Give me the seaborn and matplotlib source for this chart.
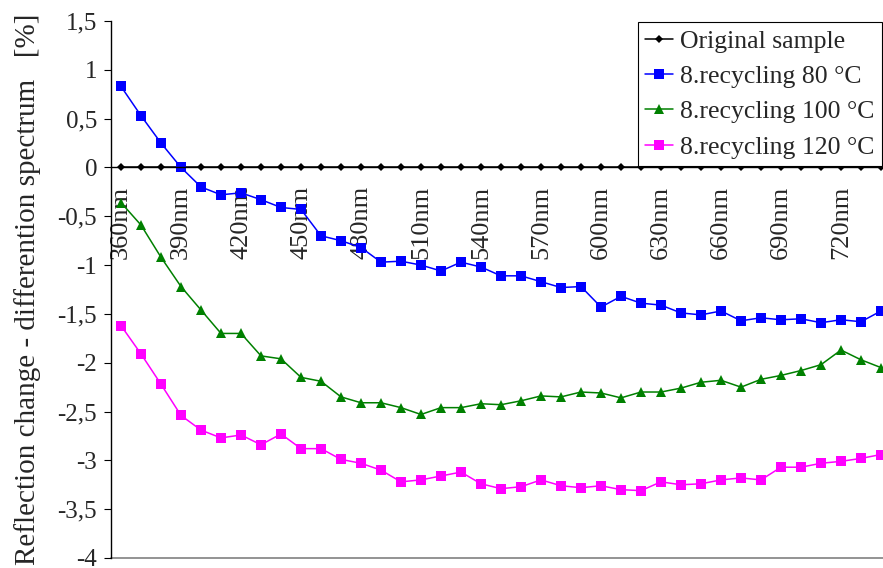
import matplotlib
matplotlib.use("Agg")
import matplotlib.pyplot as plt
import pandas as pd
import seaborn as sns
from matplotlib.ticker import FixedLocator, FuncFormatter

# wavelengths in nm (one point every 10 nm)
wavelengths = [360, 370, 380, 390, 400, 410, 420, 430, 440, 450,
               460, 470, 480, 490, 500, 510, 520, 530, 540, 550,
               560, 570, 580, 590, 600, 610, 620, 630, 640, 650,
               660, 670, 680, 690, 700, 710, 720, 730, 740]

original = [0.0] * 39

recycling_80 = [0.83, 0.53, 0.25, 0.00, -0.20, -0.28, -0.26, -0.33, -0.41, -0.43,
                -0.70, -0.75, -0.82, -0.97, -0.96, -1.00, -1.06, -0.97, -1.02, -1.11,
                -1.11, -1.17, -1.23, -1.22, -1.43, -1.32, -1.39, -1.41, -1.49, -1.51,
                -1.47, -1.57, -1.54, -1.56, -1.55, -1.59, -1.56, -1.58, -1.47]

recycling_100 = [-0.36, -0.59, -0.92, -1.22, -1.46, -1.70, -1.70, -1.93, -1.96, -2.15,
                 -2.19, -2.35, -2.41, -2.41, -2.46, -2.53, -2.46, -2.46, -2.42, -2.43,
                 -2.39, -2.34, -2.35, -2.30, -2.31, -2.36, -2.30, -2.30, -2.26, -2.20,
                 -2.18, -2.25, -2.17, -2.13, -2.08, -2.02, -1.87, -1.97, -2.05]

recycling_120 = [-1.62, -1.91, -2.22, -2.54, -2.69, -2.77, -2.74, -2.84, -2.73, -2.88,
                 -2.88, -2.99, -3.03, -3.10, -3.22, -3.20, -3.16, -3.12, -3.24, -3.29,
                 -3.27, -3.20, -3.26, -3.28, -3.26, -3.30, -3.31, -3.22, -3.25, -3.24,
                 -3.20, -3.18, -3.20, -3.07, -3.07, -3.03, -3.01, -2.98, -2.94]

series_names = ["Original sample", "8.recycling 80 °C", "8.recycling 100 °C", "8.recycling 120 °C"]
series_values = [original, recycling_80, recycling_100, recycling_120]
series_colors = ["black", "#0000FF", "#008000", "#FF00FF"]
series_markers = ["D", "s", "^", "s"]
series_msize = [4.5, 6.6, 7.0, 6.6]

label_ticks = [360, 390, 420, 450, 480, 510, 540, 570, 600, 630, 660, 690, 720]


def main():
    sns.set_style("white")
    plt.rcParams["font.family"] = ["Liberation Serif", "DejaVu Serif"]

    rows = []
    for name, vals in zip(series_names, series_values):
        for w, v in zip(wavelengths, vals):
            rows.append({"wavelength": w, "value": v, "series": name})
    df = pd.DataFrame(rows)

    fig = plt.figure(figsize=(8.83, 5.68), dpi=100)
    ax = fig.add_axes([111 / 883, 10 / 568, 780 / 883, 537 / 568])

    for name, color, marker, ms in zip(series_names, series_colors, series_markers, series_msize):
        sns.lineplot(
            data=df[df["series"] == name],
            x="wavelength",
            y="value",
            color=color,
            marker=marker,
            markersize=ms,
            markeredgewidth=0,
            linewidth=1.1,
            label=name,
            ax=ax,
            clip_on=False,
        )

    ax.set_xlim(355, 745)
    ax.set_ylim(-4, 1.5)

    # x axis sits at y = 0, category ticks between points
    ax.spines["bottom"].set_position(("data", 0))
    ax.spines["top"].set_visible(False)
    ax.spines["right"].set_visible(False)
    for side in ("left", "bottom"):
        ax.spines[side].set_color("black")
        ax.spines[side].set_linewidth(1.0)
    ax.axhline(-4, color="#808080", linewidth=1.2, clip_on=False, zorder=0)

    ax.xaxis.set_major_locator(FixedLocator(label_ticks))
    ax.set_xticklabels([f"{w}nm" for w in label_ticks], rotation=90, fontsize=19)
    ax.xaxis.set_minor_locator(FixedLocator([w + 5 for w in wavelengths[:-1]]))
    ax.tick_params(axis="x", which="major", length=0, pad=13)
    ax.tick_params(axis="x", which="minor", length=5, width=0.8, direction="out", color="black")

    yticks = [1.5, 1, 0.5, 0, -0.5, -1, -1.5, -2, -2.5, -3, -3.5, -4]
    ax.yaxis.set_major_locator(FixedLocator(yticks))
    ax.yaxis.set_major_formatter(FuncFormatter(lambda v, p: f"{v:g}".replace(".", ",")))
    ax.tick_params(axis="y", which="major", length=5, width=0.8, direction="out",
                   color="black", labelsize=18, pad=5, left=True)

    ax.set_xlabel("")
    ax.set_ylabel("Reflection change - differention spectrum   [%]", fontsize=21, labelpad=12)

    leg = ax.legend(
        loc="upper right",
        bbox_to_anchor=(882 / 883, 546 / 568),
        bbox_transform=fig.transFigure,
        borderaxespad=0,
        fontsize=18.5,
        frameon=True,
        fancybox=False,
        framealpha=1,
        edgecolor="black",
        handlelength=1.1,
        handletextpad=0.25,
        labelspacing=0.48,
        borderpad=0.3,
    )
    leg.get_frame().set_linewidth(0.8)

    fig.savefig("out.png", dpi=100)
    plt.close(fig)


if __name__ == "__main__":
    main()
